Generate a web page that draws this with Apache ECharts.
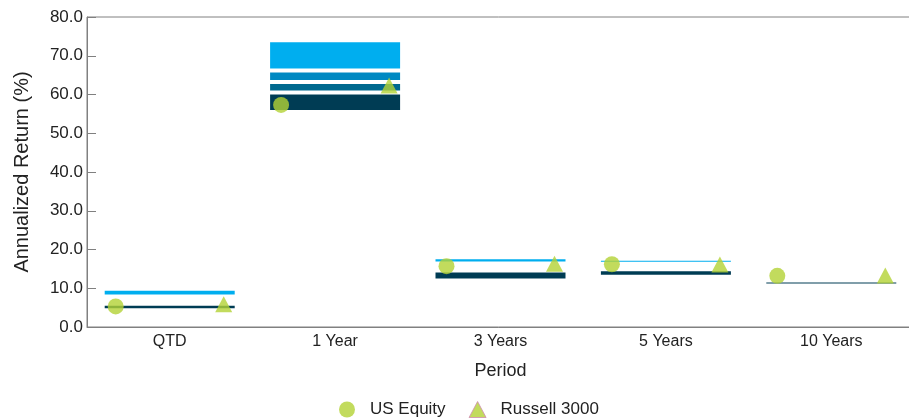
<!DOCTYPE html>
<html>
<head>
<meta charset="utf-8">
<script src="https://cdn.jsdelivr.net/npm/echarts@6/dist/echarts.min.js"></script>
<style>
html,body{margin:0;padding:0;background:#fff;}
#chart{width:909px;height:420px;}
</style>
</head>
<body>
<div id="chart"></div>
<script>
// Categories
const categories = ['QTD', '1 Year', '3 Years', '5 Years', '10 Years'];
// Universe percentiles (5th = top of bar, 95th = bottom)
const p5  = [9.9, 74.0, 18.0, 17.6, 12.0];
const p25 = [7.9, 66.2, 16.4, 16.3, 12.0];
const p50 = [6.9, 63.2, 15.5, 15.6, 12.0];
const p75 = [6.0, 60.5, 14.6, 14.9, 12.0];
const p95 = [4.3, 55.5, 12.0, 13.0, 10.7];
// Series points
const usEquity = [5.3, 57.3, 15.7, 16.2, 13.2];
const russell3000 = [5.9, 62.3, 16.3, 16.1, 13.3];

const diff = (a, b) => a.map((v, i) => +(v - b[i]).toFixed(2));

const font = 'Liberation Sans, Arial, sans-serif';
const txt = '#222';
const segBorder = { borderColor: '#ffffff', borderWidth: 2 };
const barW = 134;

const chart = echarts.init(document.getElementById('chart'), null, { renderer: 'canvas' });
chart.setOption({
  animation: false,
  textStyle: { fontFamily: font, color: txt },
  grid: { left: 87, top: 17, height: 310, width: 827, outerBoundsMode: 'none', containLabel: false,
    show: true, borderColor: '#808080', borderWidth: 1 },
  legend: {
    left: 334, top: 396,
    itemWidth: 36, itemHeight: 16, itemGap: 23,
    textStyle: { fontSize: 17, color: txt, fontFamily: font },
    data: [
      { name: 'US Equity' },
      { name: 'Russell 3000', icon: 'path://M0,16 L8.5,0 L17,16 Z',
        itemStyle: { borderColor: '#d08cb0', borderWidth: 1 } }
    ]
  },
  xAxis: {
    type: 'category',
    data: categories,
    name: 'Period',
    nameLocation: 'middle',
    nameGap: 35,
    nameTextStyle: { fontSize: 18, color: txt },
    axisLine: { lineStyle: { color: '#808080' } },
    axisTick: { show: false },
    axisLabel: { fontSize: 16, color: txt, margin: 7 }
  },
  yAxis: {
    type: 'value',
    min: 0, max: 80, interval: 10,
    name: 'Annualized Return (%)',
    nameLocation: 'middle',
    nameGap: 55,
    nameTextStyle: { fontSize: 20, color: txt },
    axisLine: { show: true, lineStyle: { color: '#808080' } },
    axisTick: { show: true, inside: true, length: 9, lineStyle: { color: '#808080' } },
    splitLine: { show: false },
    axisLabel: { fontSize: 17, color: txt, margin: 4, formatter: v => v.toFixed(1) }
  },
  series: [
    { name: 'base', type: 'bar', stack: 'u', barWidth: barW, data: p95,
      itemStyle: { color: 'transparent' }, silent: true },
    { name: '75th-95th', type: 'bar', stack: 'u', barWidth: barW, data: diff(p75, p95),
      itemStyle: Object.assign({ color: '#003C54' }, segBorder) },
    { name: '50th-75th', type: 'bar', stack: 'u', barWidth: barW, data: diff(p50, p75),
      itemStyle: Object.assign({ color: '#00698F' }, segBorder) },
    { name: '25th-50th', type: 'bar', stack: 'u', barWidth: barW, data: diff(p25, p50),
      itemStyle: Object.assign({ color: '#0089C2' }, segBorder) },
    { name: '5th-25th', type: 'bar', stack: 'u', barWidth: barW, data: diff(p5, p25),
      itemStyle: Object.assign({ color: '#00AEEF' }, segBorder) },
    { name: 'US Equity', type: 'scatter', data: usEquity, symbol: 'circle', symbolSize: 16,
      symbolOffset: [-54, 0], itemStyle: { color: '#B3D235' }, z: 5 },
    { name: 'Russell 3000', type: 'scatter', data: russell3000, symbol: 'triangle', symbolSize: [17, 16],
      symbolOffset: [54, 0], itemStyle: { color: '#B3D235' }, z: 5 }
  ]
});
</script>
</body>
</html>
